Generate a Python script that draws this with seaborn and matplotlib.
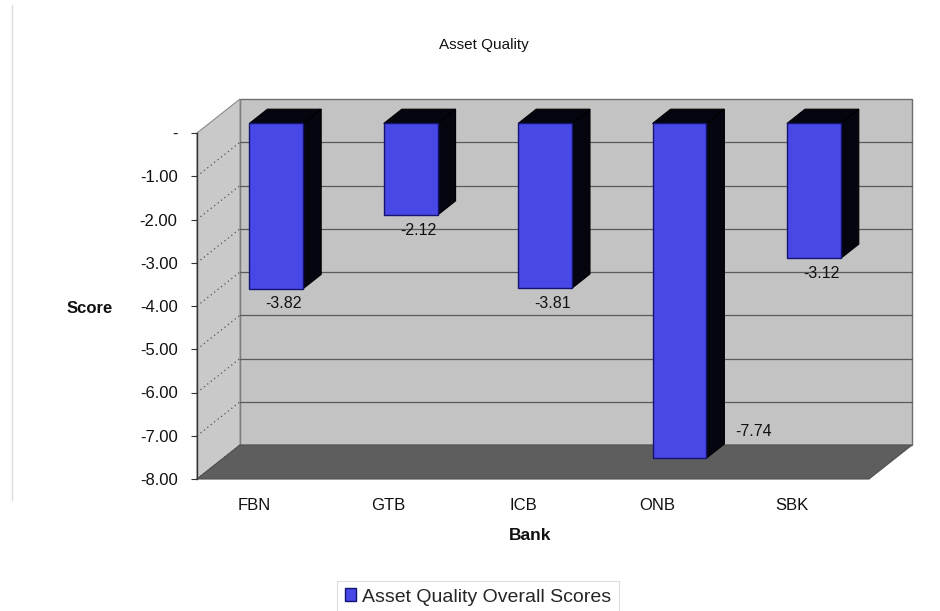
import matplotlib
matplotlib.use("Agg")
import matplotlib.pyplot as plt
import matplotlib.transforms as mtransforms
from matplotlib.patches import Polygon, Patch
from matplotlib.lines import Line2D
import pandas as pd
import seaborn as sns

# Asset quality scores per bank
banks = ["FBN", "GTB", "ICB", "ONB", "SBK"]
scores = [-3.82, -2.12, -3.81, -7.74, -3.12]
y_ticks = [0, -1, -2, -3, -4, -5, -6, -7, -8]
y_tick_labels = ["-", "-1.00", "-2.00", "-3.00", "-4.00", "-5.00", "-6.00", "-7.00", "-8.00"]
series_name = "Asset Quality Overall Scores"

sns.set_theme(style="white")
plt.rcParams["font.family"] = ["Liberation Sans", "DejaVu Sans"]

DPI = 100
W, H = 940, 611
fig = plt.figure(figsize=(W / DPI, H / DPI), dpi=DPI)
fig.patch.set_facecolor("white")


def px_rect(x0, y0, x1, y1):
    return [x0 / W, 1 - y1 / H, (x1 - x0) / W, (y1 - y0) / H]


ax = fig.add_axes(px_rect(197, 133, 869, 479))

# depth of the pseudo-3D box, in pixels (right, up)
DX, DY = 43.0, 34.0
F0, F1 = 0.28, 0.70  # front / back depth of the columns
WALL = "#c3c3c3"
FLOOR = "#5e5e5e"
GRID = "#5a5a5a"
BAR = "#4848e6"
BAR_EDGE = "#141470"


def shift(depth):
    return mtransforms.ScaledTranslation(depth * DX / DPI, depth * DY / DPI, fig.dpi_scale_trans)


df = pd.DataFrame({"Bank": banks, "Score": scores})
sns.barplot(data=df, x="Bank", y="Score", ax=ax, width=0.4, color=BAR,
            edgecolor=BAR_EDGE, linewidth=1.0, saturation=1, zorder=5)
bars = list(ax.patches)
ax.set_ylim(-8, 0)
ax.set_xlim(-0.5, 4.5)
ax.patch.set_visible(False)

ident = mtransforms.IdentityTransform()


def disp_axes(pt, depth):
    x, y = ax.transAxes.transform(pt)
    return (x + depth * DX, y + depth * DY)


def disp_data(pt, depth):
    x, y = ax.transData.transform(pt)
    return (x + depth * DX, y + depth * DY)


# back wall
back = Polygon([disp_axes(p, 1) for p in [(0, 0), (1, 0), (1, 1), (0, 1)]],
               closed=True, transform=ident, facecolor=WALL, edgecolor="#6e6e6e",
               linewidth=1.0, zorder=0, clip_on=False)
ax.add_artist(back)
# left side wall
side = Polygon([disp_axes((0, 0), 0), disp_axes((0, 1), 0), disp_axes((0, 1), 1), disp_axes((0, 0), 1)],
               closed=True, transform=ident, facecolor="#c9c9c9", edgecolor="#8a8a8a",
               linewidth=0.8, zorder=0.5, clip_on=False)
ax.add_artist(side)
# floor
floor = Polygon([disp_axes((0, 0), 0), disp_axes((1, 0), 0), disp_axes((1, 0), 1), disp_axes((0, 0), 1)],
                closed=True, transform=ident, facecolor=FLOOR, edgecolor="#505050",
                linewidth=0.8, zorder=1.5, clip_on=False)
ax.add_artist(floor)

# gridlines on the back wall and dotted guides on the side wall
grid_tf = ax.get_yaxis_transform() + shift(1)
for t in y_ticks[1:-1]:
    ax.plot([0, 1], [t, t], transform=grid_tf, color=GRID, linewidth=0.9,
            zorder=1, clip_on=False)
for t in y_ticks[1:]:
    p0 = disp_data((-0.5, t), 0)
    p1 = disp_data((-0.5, t), 1)
    ax.add_line(Line2D([p0[0], p1[0]], [p0[1], p1[1]], transform=ident,
                       color="#555555", linewidth=0.9, linestyle=(0, (1, 2.5)),
                       zorder=1, clip_on=False))

# extrude each column: top face and right side in black, front face moved to its depth
for bar in bars:
    x0 = bar.get_x()
    x1 = x0 + bar.get_width()
    y0 = bar.get_y()
    y1 = y0 + bar.get_height()
    top_y = max(y0, y1)
    bot_y = min(y0, y1)
    side_face = Polygon([disp_data((x1, top_y), F0), disp_data((x1, bot_y), F0),
                         disp_data((x1, bot_y), F1), disp_data((x1, top_y), F1)],
                        closed=True, transform=ident, facecolor="#050510",
                        edgecolor="#000000", linewidth=0.8, zorder=4, clip_on=False)
    top_face = Polygon([disp_data((x0, top_y), F0), disp_data((x1, top_y), F0),
                        disp_data((x1, top_y), F1), disp_data((x0, top_y), F1)],
                       closed=True, transform=ident, facecolor="#050510",
                       edgecolor="#000000", linewidth=0.8, zorder=4, clip_on=False)
    ax.add_artist(side_face)
    ax.add_artist(top_face)
    bar.set_transform(ax.transData + shift(F0))
    bar.set_clip_on(False)

# value labels
for i, v in enumerate(scores):
    if v < -7:
        ax.annotate(f"{v:.2f}", xy=(i, v), xytext=(62, 26), textcoords="offset points",
                    ha="center", va="center", fontsize=11.5, color="#111111", zorder=6)
    else:
        ax.annotate(f"{v:.2f}", xy=(i, v), xytext=(14, -4), textcoords="offset points",
                    ha="center", va="center", fontsize=11.5, color="#111111", zorder=6)

# axes styling
for s in ["top", "right", "bottom"]:
    ax.spines[s].set_visible(False)
ax.spines["left"].set_color("#333333")
ax.spines["left"].set_linewidth(1.0)
ax.spines["left"].set_zorder(2)
ax.set_yticks(y_ticks)
ax.set_yticklabels(y_tick_labels)
ax.tick_params(axis="y", which="both", left=True, length=4, width=0.8, color="#333333",
               pad=10, labelsize=12, labelcolor="#111111")
ax.tick_params(axis="x", which="both", bottom=False, pad=8, labelsize=12,
               labelcolor="#111111")
for lab in ax.get_xticklabels():
    lab.set_transform(lab.get_transform() + mtransforms.ScaledTranslation(-0.1, 0, fig.dpi_scale_trans))

ax.set_ylabel("Score", rotation=0, fontsize=12, fontweight="bold", color="#111111",
              ha="center", va="center")
ax.yaxis.set_label_coords(-0.159, 0.494)
ax.set_xlabel("Bank", fontsize=12.5, fontweight="bold", color="#111111", va="center")
ax.xaxis.set_label_coords(0.4955, -0.162)

fig.text(484 / W, 1 - 45 / H, "Asset Quality", ha="center", va="center",
         fontsize=11, color="#111111")

handle = Patch(facecolor=BAR, edgecolor=BAR_EDGE, linewidth=1.0)
leg = fig.legend([handle], [series_name], loc="center", bbox_to_anchor=(478 / W, 1 - 597 / H),
                 frameon=True, fancybox=False, edgecolor="#d4d4d4", fontsize=14,
                 handlelength=0.6, handleheight=0.6, handletextpad=0.3, borderpad=0.4)
leg.get_frame().set_linewidth(0.8)

# outer chart border on the left
fig.add_artist(Line2D([12 / W, 12 / W], [1 - 5 / H, 1 - 500 / H], transform=fig.transFigure,
                      color="#dddddd", linewidth=1.0))

fig.savefig("out.png", dpi=DPI)
